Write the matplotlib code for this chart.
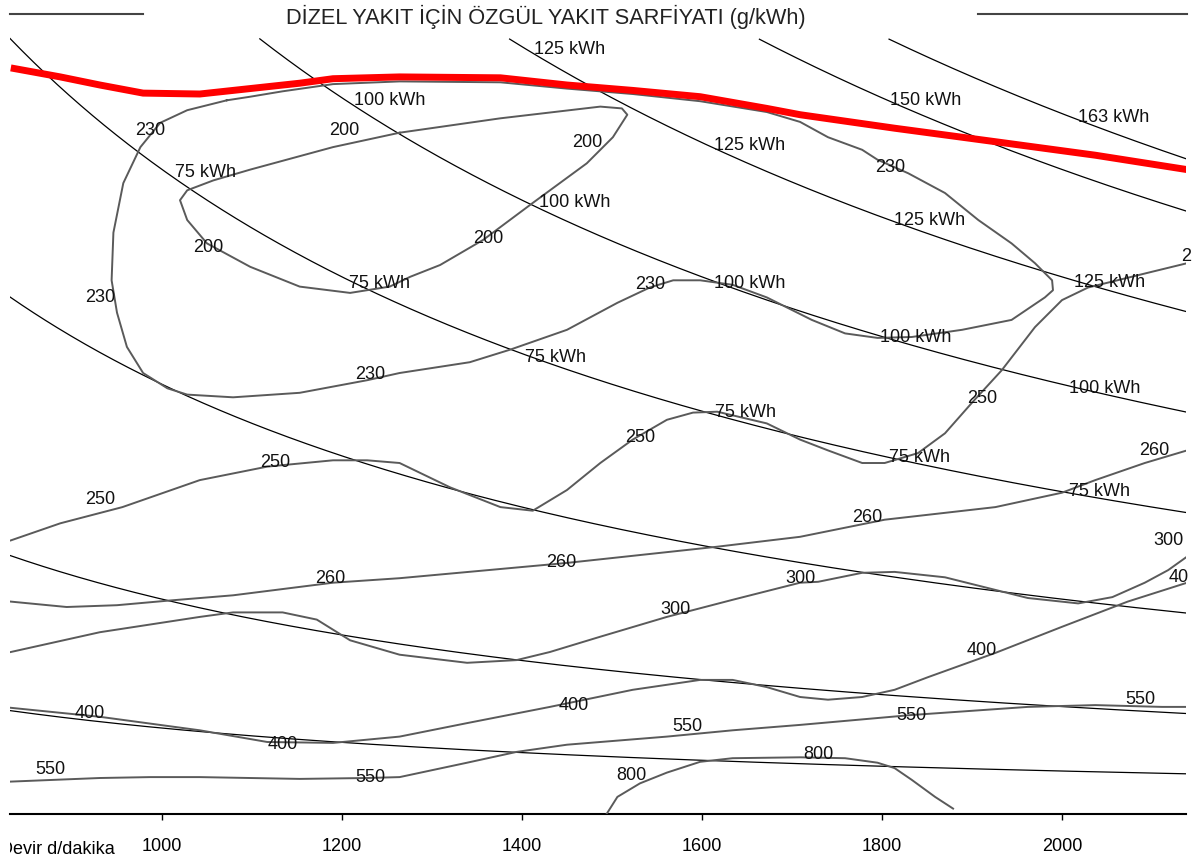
import matplotlib
matplotlib.use("Agg")
import matplotlib.pyplot as plt
import numpy as np
from matplotlib.lines import Line2D
from matplotlib.transforms import Bbox, TransformedBbox

plt.rcParams['font.family'] = ['Liberation Sans', 'DejaVu Sans']

# --- veriler: devir (d/dakika) ve moment (Nm) ---
# tam yuk egrisi (kirmizi)
tam_devir = [832, 887, 931, 979, 1042, 1079, 1153, 1190, 1264, 1376, 1450, 1523,
             1598, 1672, 1709, 1814, 1926, 2037, 2139]
tam_moment = [829, 819, 810, 801, 800, 804, 812, 817, 819, 818, 810, 804,
              797, 784, 777, 762, 747, 732, 716]

# sabit guc egrileri (kW)
guc_kw = [10, 25, 50, 75, 100, 125, 150, 163]
moment_ust = 862

# ozgul yakit sarfiyati egrileri (g/kWh)
e200_devir = [1264, 1376, 1487, 1511, 1517, 1501, 1472, 1412, 1357, 1309, 1276, 1253,
              1209, 1153, 1098, 1050, 1028, 1020, 1028, 1057, 1098, 1190, 1264]
e200_moment = [757, 773, 786, 784, 777, 752, 723, 679, 638, 610, 597, 586,
               579, 586, 608, 634, 660, 682, 693, 704, 716, 741, 757]

e230_devir = [1072, 1098, 1134, 1190, 1264, 1376, 1450, 1523, 1598, 1672, 1709, 1740,
              1778, 1795, 1829, 1870, 1907, 1944, 1970, 1989, 1990, 1981, 1944, 1889,
              1833, 1795, 1759, 1722, 1672, 1634, 1598, 1568, 1542, 1506, 1450, 1387,
              1342, 1264, 1228, 1153, 1079, 1028, 1006, 979, 961, 950, 944, 946,
              957, 976, 998, 1028, 1072]
e230_moment = [793, 797, 803, 811, 814, 813, 806, 800, 792, 780, 769, 752,
               738, 727, 712, 690, 660, 634, 612, 593, 582, 574, 549, 538,
               530, 529, 534, 549, 574, 588, 593, 593, 585, 568, 538, 516,
               502, 490, 482, 468, 463, 466, 473, 490, 519, 557, 593, 646,
               701, 741, 768, 782, 793]

e250_devir = [832, 887, 956, 1042, 1117, 1190, 1228, 1264, 1320, 1376, 1412, 1450,
              1487, 1523, 1561, 1590, 1617, 1672, 1709, 1740, 1778, 1803, 1840, 1870,
              1900, 1933, 1970, 2000, 2029, 2098, 2139]
e250_moment = [304, 323, 341, 371, 386, 393, 393, 390, 363, 341, 337, 360,
               390, 416, 438, 446, 447, 434, 416, 404, 390, 390, 401, 423,
               457, 493, 541, 571, 585, 602, 612]

e260_devir = [832, 894, 950, 1006, 1079, 1190, 1264, 1450, 1617, 1709, 1803, 1926,
              2000, 2037, 2092, 2139]
e260_moment = [236, 230, 232, 237, 243, 257, 262, 279, 297, 308, 327, 341,
               357, 371, 390, 404]

e300_devir = [832, 931, 1042, 1079, 1134, 1172, 1209, 1264, 1339, 1394, 1431, 1487,
              1561, 1634, 1709, 1729, 1778, 1814, 1870, 1926, 1962, 2018, 2056, 2092,
              2118, 2139]
e300_moment = [180, 202, 219, 224, 224, 216, 193, 177, 168, 171, 180, 197,
               219, 238, 257, 258, 268, 269, 263, 249, 240, 234, 241, 257,
               271, 286]

e400_devir = [832, 931, 1042, 1117, 1190, 1264, 1339, 1431, 1523, 1598, 1634, 1672,
              1709, 1740, 1778, 1814, 1851, 1926, 2000, 2073, 2139]
e400_moment = [118, 108, 93, 80, 79, 86, 101, 119, 138, 149, 149, 141,
               130, 127, 130, 138, 152, 179, 208, 236, 257]

e550_devir = [832, 931, 987, 1042, 1153, 1228, 1264, 1339, 1394, 1450, 1561, 1634,
              1709, 1833, 1962, 2037, 2111, 2139]
e550_moment = [36, 40, 41, 41, 39, 40, 41, 57, 69, 77, 86, 93,
               99, 110, 119, 121, 119, 119]

e800_devir = [1494, 1506, 1531, 1561, 1598, 1634, 1709, 1759, 1795, 1814, 1833, 1859, 1879]
e800_moment = [0, 19, 34, 46, 58, 62, 63, 62, 57, 51, 38, 19, 6]

# etiket konumlari (devir, moment)
et200 = [(1203, 760), (1473, 746), (1362, 640), (1051, 629)]
et230 = [(987, 760), (931, 574), (1231, 488), (1542, 588), (1809, 718)]
et250 = [(931, 349), (1126, 391), (1531, 418), (1911, 462)]
et260 = [(1187, 262), (1444, 279), (1784, 329), (2103, 404)]
et300 = [(1570, 227), (1709, 262), (2118, 304)]
et400 = [(920, 112), (1134, 77), (1457, 121), (1911, 182)]
et550 = [(876, 49), (1231, 41), (1584, 97), (1833, 110), (2087, 127)]
et800 = [(1522, 43), (1729, 66)]
# sag kenarda yarim kalan etiketler (sol kenar konumu)
et_kenar = [("2", 2132, 620), ("40", 2118, 263)]

et75 = [(1048, 713), (1242, 590), (1437, 507), (1648, 446), (1842, 396), (2042, 358)]
et100 = [(1253, 793), (1459, 679), (1653, 590), (1837, 529), (2048, 473)]
et125 = [(1453, 849), (1653, 743), (1853, 660), (2053, 591)]
et150 = [(1848, 793)]
et163 = [(2057, 774)]

xticks = [1000, 1200, 1400, 1600, 1800, 2000]

W, H = 1195, 867
fig = plt.figure(figsize=(W / 100, H / 100), dpi=100)
ax = fig.add_axes([10 / W, 53 / H, 1176 / W, 800 / H])
ax.set_xlim(831.1, 2137.8)
ax.set_ylim(0, 888.9)

# sabit guc hiperbolleri
n = np.linspace(831.1, 2137.8, 500)
for p in guc_kw:
    t = p * 9549.0 / n
    t = np.where(t <= moment_ust, t, np.nan)
    ax.plot(n, t, color='black', lw=0.9, zorder=2)

gri = '#5a5a5a'
egriler = [(e200_devir, e200_moment), (e230_devir, e230_moment), (e250_devir, e250_moment),
           (e260_devir, e260_moment), (e300_devir, e300_moment), (e400_devir, e400_moment),
           (e550_devir, e550_moment), (e800_devir, e800_moment)]
for d, m in egriler:
    ax.plot(d, m, color=gri, lw=1.4, zorder=3)

ax.plot(tam_devir, tam_moment, color='#ff0000', lw=5, zorder=5, solid_capstyle='butt')

etiketler = [("200", et200), ("230", et230), ("250", et250), ("260", et260),
             ("300", et300), ("400", et400), ("550", et550), ("800", et800),
             ("75 kWh", et75), ("100 kWh", et100), ("125 kWh", et125),
             ("150 kWh", et150), ("163 kWh", et163)]
for s, konumlar in etiketler:
    for x, y in konumlar:
        ax.text(x, y, s, ha='center', va='center', fontsize=13, color='#111111', zorder=6)

for s, x, y in et_kenar:
    ax.text(x, y, s, ha='left', va='center', fontsize=13, color='#111111', zorder=6)

for sp in ['top', 'left', 'right']:
    ax.spines[sp].set_visible(False)
ax.spines['bottom'].set_linewidth(1.5)
ax.set_yticks([])
ax.set_xticks(xticks)
ax.set_xticklabels([str(v) for v in xticks])
ax.tick_params(axis='x', length=4, width=1, pad=13, labelsize=13)

fig.text(546 / W, 1 - 17 / H, "DİZEL YAKIT İÇİN ÖZGÜL YAKIT SARFİYATI (g/kWh)",
         ha='center', va='center', fontsize=15.7, color='#222222')
fig.add_artist(Line2D([10 / W, 143 / W], [1 - 14 / H] * 2, color='#444444', lw=1.5))
fig.add_artist(Line2D([978 / W, 1187 / W], [1 - 14 / H] * 2, color='#444444', lw=1.5))

# sol kenarda "D" harfi yarim gorunuyor
kirp = TransformedBbox(Bbox([[10 / W, 0], [1, 1]]), fig.transFigure)
t = fig.text(0.5 / W, 1 - 849 / H, "Devir d/dakika", ha='left', va='center', fontsize=13)
t.set_clip_box(kirp)
t.set_clip_on(True)

fig.savefig('out.png', dpi=100)
